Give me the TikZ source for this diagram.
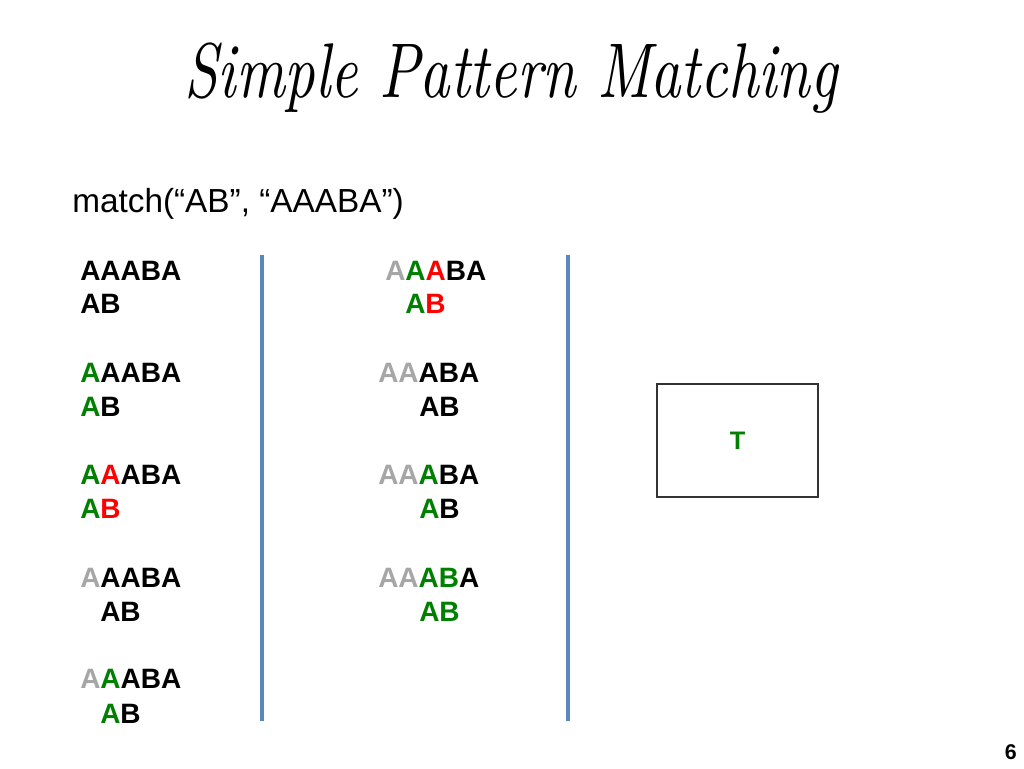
\documentclass[tikz,border=0pt]{standalone}
\usepackage{fontspec}
\usepackage{graphicx}
\newfontfamily\arialf{Liberation Sans}
\definecolor{mygreen}{RGB}{0,128,0}
\definecolor{myred}{RGB}{255,0,0}
\definecolor{mygray}{RGB}{166,166,166}
\definecolor{myblue}{RGB}{90,135,190}
\newcommand\Gr[1]{\textcolor{mygreen}{#1}}
\newcommand\Rd[1]{\textcolor{myred}{#1}}
\newcommand\Gy[1]{\textcolor{mygray}{#1}}
\tikzset{
  row/.style={anchor=base west, inner sep=0pt, font=\arialf\bfseries\fontsize{21}{25}\selectfont},
  sepline/.style={draw=myblue, line width=2.8pt},
}
\begin{document}
\begin{tikzpicture}[x=0.75pt,y=-0.75pt]
\useasboundingbox[fill=white] (0,0) rectangle (1024,768);
% title
\node[anchor=base, inner sep=0pt] (title) at (511,97) {\resizebox{490pt}{41pt}{\itshape Simple Pattern Matching}};
\node[anchor=base west, inner sep=0pt, font=\arialf\fontsize{25}{30}\selectfont] (call) at (72,212) {match(“AB”, “AAABA”)};
% left column
\node[row] (l1a) at (80,280) {AAABA};
\node[row] (l1b) at (80,313) {AB};
\node[row] (l2a) at (80,382) {\Gr{A}AABA};
\node[row] (l2b) at (80,416) {\Gr{A}B};
\node[row] (l3a) at (80,484) {\Gr{A}\Rd{A}ABA};
\node[row] (l3b) at (80,518) {\Gr{A}\Rd{B}};
\node[row] (l4a) at (80,587) {\Gy{A}AABA};
\node[row] (l4b) at (100,621) {AB};
\node[row] (l5a) at (80,688) {\Gy{A}\Gr{A}ABA};
\node[row] (l5b) at (100,723) {\Gr{A}B};
% middle column
\node[row] (m1a) at (385,280) {\Gy{A}\Gr{A}\Rd{A}BA};
\node[row] (m1b) at (405,313) {\Gr{A}\Rd{B}};
\node[row] (m2a) at (378,382) {\Gy{AA}ABA};
\node[row] (m2b) at (419,416) {AB};
\node[row] (m3a) at (378,484) {\Gy{AA}\Gr{A}BA};
\node[row] (m3b) at (419,518) {\Gr{A}B};
\node[row] (m4a) at (378,587) {\Gy{AA}\Gr{AB}A};
\node[row] (m4b) at (419,621) {\Gr{AB}};
% separators
\coordinate (s1t) at (262,255); \coordinate (s1b) at (262,721);
\coordinate (s2t) at (568,255); \coordinate (s2b) at (568,721);
\draw[sepline] (s1t) -- (s1b);
\draw[sepline] (s2t) -- (s2b);
% result box
\node[draw=black!80, line width=0.9pt, minimum width=120.75pt, minimum height=84.75pt, inner sep=0pt] (box) at (737.5,440.5) {};
\node[inner sep=0pt, font=\arialf\bfseries\fontsize{19}{22}\selectfont, text=mygreen] (T) at (box.center) {T};
% page number
\node[anchor=base east, inner sep=0pt, font=\arialf\bfseries\fontsize{16}{19}\selectfont] (pg) at (1017,759) {6};
\end{tikzpicture}
\end{document}
